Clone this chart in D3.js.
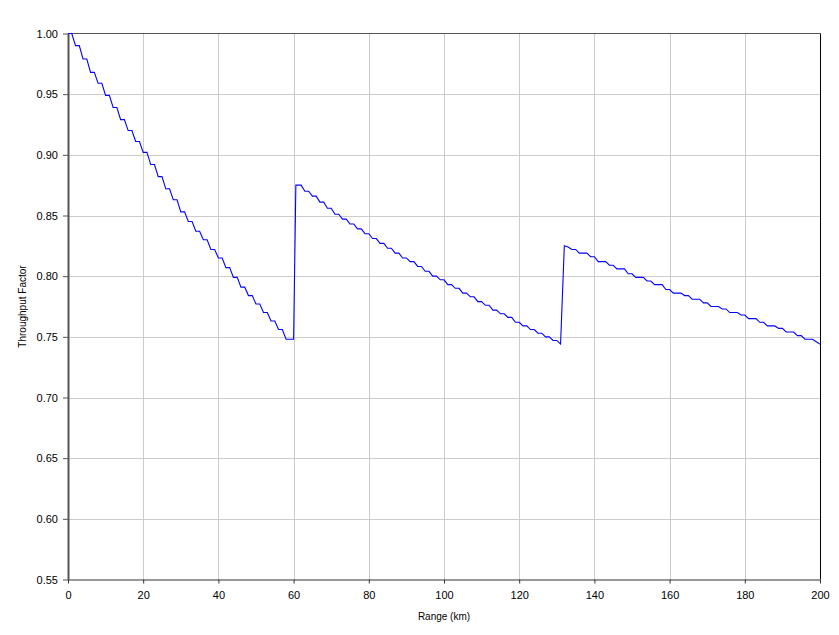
<!DOCTYPE html>
<html>
<head>
<meta charset="utf-8">
<script src="https://cdn.jsdelivr.net/npm/d3@7"></script>
<style>
  html, body { margin: 0; padding: 0; background: #fff; }
  svg { display: block; }
  text { font-family: "Liberation Sans", Arial, sans-serif; fill: #000; }
</style>
</head>
<body>
<svg id="chart" width="839" height="635"></svg>
<script>
// ---- Data ----
const rangeKm = [
  0,1,2,3,4,5,6,7,8,9,10,11,12,13,14,15,16,17,18,19,
  20,21,22,23,24,25,26,27,28,29,30,31,32,33,34,35,36,37,38,39,
  40,41,42,43,44,45,46,47,48,49,50,51,52,53,54,55,56,57,58,59,
  60,60.6,61,62,63,64,65,66,67,68,69,70,71,72,73,74,75,76,77,78,79,
  80,81,82,83,84,85,86,87,88,89,90,91,92,93,94,95,96,97,98,99,
  100,101,102,103,104,105,106,107,108,109,110,111,112,113,114,115,116,117,118,119,
  120,121,122,123,124,125,126,127,128,129,130,131,132,133,134,135,136,137,138,139,
  140,141,142,143,144,145,146,147,148,149,150,151,152,153,154,155,156,157,158,159,
  160,161,162,163,164,165,166,167,168,169,170,171,172,173,174,175,176,177,178,179,
  180,181,182,183,184,185,186,187,188,189,190,191,192,193,194,195,196,197,198,199,200
];
const throughputFactor = [
  1.000,1.000,0.990,0.990,0.979,0.979,0.968,0.968,0.959,0.959,
  0.949,0.949,0.939,0.939,0.929,0.929,0.920,0.920,0.911,0.911,
  0.902,0.902,0.892,0.892,0.882,0.882,0.872,0.872,0.863,0.863,
  0.853,0.853,0.845,0.845,0.837,0.837,0.830,0.830,0.822,0.822,
  0.815,0.815,0.807,0.807,0.799,0.799,0.791,0.791,0.784,0.784,
  0.777,0.777,0.770,0.770,0.763,0.763,0.756,0.756,0.748,0.748,
  0.748,0.875,0.875,0.875,0.870,0.870,0.866,0.866,0.861,0.861,
  0.856,0.856,0.851,0.851,0.847,0.847,0.843,0.843,0.839,0.839,0.835,
  0.835,0.831,0.831,0.827,0.827,0.823,0.823,0.819,0.819,0.815,
  0.815,0.812,0.812,0.808,0.808,0.804,0.804,0.800,0.800,0.797,
  0.797,0.793,0.793,0.790,0.790,0.786,0.786,0.783,0.783,0.779,
  0.779,0.776,0.776,0.772,0.772,0.769,0.769,0.766,0.766,0.762,
  0.762,0.759,0.759,0.756,0.756,0.753,0.753,0.750,0.750,0.747,
  0.747,0.744,0.825,0.824,0.822,0.822,0.819,0.819,0.819,0.816,
  0.816,0.812,0.812,0.812,0.809,0.809,0.806,0.806,0.806,0.802,
  0.802,0.799,0.799,0.799,0.796,0.796,0.793,0.793,0.793,0.789,
  0.789,0.786,0.786,0.786,0.784,0.784,0.781,0.781,0.781,0.778,
  0.778,0.775,0.775,0.775,0.773,0.773,0.770,0.770,0.770,0.768,
  0.768,0.765,0.765,0.765,0.762,0.762,0.759,0.759,0.759,0.757,
  0.757,0.754,0.754,0.754,0.751,0.751,0.748,0.748,0.748,0.746,0.744
];
const xTicks = [0, 20, 40, 60, 80, 100, 120, 140, 160, 180, 200];
const yTicks = [0.55, 0.60, 0.65, 0.70, 0.75, 0.80, 0.85, 0.90, 0.95, 1.00];
const xTitle = "Range (km)";
const yTitle = "Throughput Factor";

// ---- Layout ----
const svg = d3.select("#chart");
const plot = { left: 68, right: 820, top: 33.5, bottom: 579.5 };

const x = d3.scaleLinear().domain([0, 200]).range([plot.left, plot.right]);
const y = d3.scaleLinear().domain([0.55, 1.00]).range([plot.bottom, plot.top]);

// grid
const grid = svg.append("g");
grid.selectAll("line.vg").data(xTicks.slice(1, -1)).enter().append("line")
  .attr("x1", d => Math.round(x(d)) + 0.5).attr("x2", d => Math.round(x(d)) + 0.5)
  .attr("y1", plot.top).attr("y2", plot.bottom)
  .attr("stroke", "#cccccc").attr("stroke-width", 1);
grid.selectAll("line.hg").data(yTicks.slice(1, -1)).enter().append("line")
  .attr("x1", plot.left).attr("x2", plot.right)
  .attr("y1", d => Math.round(y(d)) + 0.5).attr("y2", d => Math.round(y(d)) + 0.5)
  .attr("stroke", "#cccccc").attr("stroke-width", 1);

// borders: top and right
svg.append("line").attr("x1", plot.left).attr("x2", plot.right + 0.5)
  .attr("y1", plot.top).attr("y2", plot.top).attr("stroke", "#555").attr("stroke-width", 1);
svg.append("line").attr("x1", plot.right + 0.5).attr("x2", plot.right + 0.5)
  .attr("y1", plot.top).attr("y2", plot.bottom).attr("stroke", "#000").attr("stroke-width", 1);

// data line
const line = d3.line().x((d, i) => x(rangeKm[i])).y(d => y(d));
svg.append("path").datum(throughputFactor)
  .attr("d", line).attr("fill", "none")
  .attr("stroke", "#0000ff").attr("stroke-width", 1.1);

// axes
const xAxis = d3.axisBottom(x).tickValues(xTicks).tickFormat(d3.format("d"))
  .tickSizeInner(4).tickSizeOuter(0).tickPadding(8);
const gx = svg.append("g").attr("transform", `translate(0,${plot.bottom})`).call(xAxis);
gx.select(".domain").attr("stroke", "#333").attr("stroke-width", 1);
gx.selectAll(".tick line").attr("stroke", "#333");
gx.selectAll("text").attr("font-size", 11).attr("font-family", "Liberation Sans, Arial, sans-serif").attr("fill", "#000");

const yAxis = d3.axisLeft(y).tickValues(yTicks).tickFormat(d3.format(".2f"))
  .tickSizeInner(5).tickSizeOuter(0).tickPadding(5);
const gy = svg.append("g").attr("transform", `translate(${plot.left},0)`).call(yAxis);
gy.select(".domain").attr("stroke", "#555").attr("stroke-width", 2);
gy.selectAll(".tick line").attr("stroke", "#555");
gy.selectAll("text").attr("font-size", 11).attr("font-family", "Liberation Sans, Arial, sans-serif").attr("fill", "#000");

// titles
svg.append("text").attr("x", (plot.left + plot.right) / 2).attr("y", 620)
  .attr("text-anchor", "middle").attr("font-size", 10).text(xTitle);
svg.append("text").attr("transform", `translate(26,${(plot.top + plot.bottom) / 2}) rotate(-90)`)
  .attr("text-anchor", "middle").attr("font-size", 10).text(yTitle);
</script>
</body>
</html>
